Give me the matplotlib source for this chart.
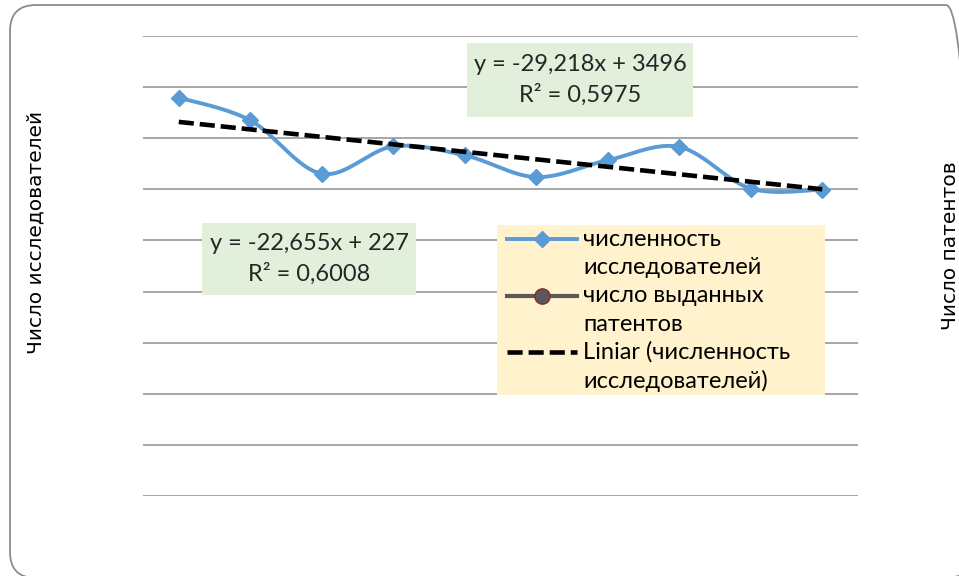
import numpy as np
import matplotlib.pyplot as plt
from matplotlib.patches import FancyBboxPatch, Rectangle
from matplotlib.lines import Line2D

# Данные
years = np.arange(1, 11)
researchers = [3559, 3470, 3261, 3368, 3333, 3248, 3314, 3366, 3203, 3199]
patents = []  # на графике не видно

label_researchers = "численность\nисследователей"
label_patents = "число выданных\nпатентов"
label_trend = "Liniar (численность\nисследователей)"
eq_researchers = "y = -29,218x + 3496\nR² = 0,5975"
eq_patents = "y = -22,655x + 227\nR² = 0,6008"
ylabel_left = "Число исследователей"
ylabel_right = "Число патентов"

W, H = 959, 576


def fx(px):
    return px / W


def fy(py):
    return 1 - py / H


def smooth(x, y, n=30):
    # сглаживание как в Excel (Catmull-Rom / Безье)
    x = np.asarray(x, float)
    y = np.asarray(y, float)
    px = np.concatenate([[x[0]], x, [x[-1]]])
    py = np.concatenate([[y[0]], y, [y[-1]]])
    xs, ys = [], []
    t = np.linspace(0, 1, n)
    for i in range(1, len(px) - 2):
        p0, p1, p2, p3 = (np.array([px[j], py[j]]) for j in (i - 1, i, i + 1, i + 2))
        c1 = p1 + (p2 - p0) / 6
        c2 = p2 - (p3 - p1) / 6
        seg = ((1 - t) ** 3)[:, None] * p1 + (3 * (1 - t) ** 2 * t)[:, None] * c1 \
            + (3 * (1 - t) * t ** 2)[:, None] * c2 + (t ** 3)[:, None] * p2
        xs.extend(seg[:, 0])
        ys.extend(seg[:, 1])
    return np.array(xs), np.array(ys)


fig = plt.figure(figsize=(W / 100, H / 100), dpi=100)

# рамка диаграммы со скруглёнными углами
frame = FancyBboxPatch((fx(10), fy(578)), fx(972) - fx(10), fy(5) - fy(578),
                       boxstyle="round,pad=0,rounding_size=%f" % (26 / W),
                       transform=fig.transFigure, facecolor="none",
                       edgecolor="#8c8c8c", linewidth=1.3, mutation_aspect=W / H)
fig.patches.append(frame)

ax = fig.add_axes([fx(143), fy(496), fx(858) - fx(143), fy(36) - fy(496)])
ax.set_facecolor("none")
ax.set_xlim(0.5, 10.5)
ax.set_ylim(2000, 3800)
ax.set_yticks(np.arange(2000, 3801, 200))
ax.yaxis.grid(True, color="#a6a6a6", linewidth=1.4)
ax.set_axisbelow(True)
ax.tick_params(left=False, bottom=False, labelleft=False, labelbottom=False)
for s in ax.spines.values():
    s.set_visible(False)

sx, sy = smooth(years, researchers)
ax.plot(sx, sy, color="#5b9bd5", linewidth=2.8, solid_capstyle="round", zorder=2)
ax.plot(years, researchers, linestyle="none", marker="D", markersize=8.5,
        color="#5b9bd5", zorder=2)

k, b = np.polyfit(years, researchers, 1)
ax.plot(years, k * years + b, color="black", linewidth=3.3,
        dashes=(3.3, 1.3), zorder=3)

# подписи линий тренда
eq_font = dict(family="Lato", fontsize=17, color="#262626")
for (x0, y0, x1, y1), txt in [((467, 43, 693, 117), eq_researchers),
                              ((202, 223, 416, 295), eq_patents)]:
    fig.patches.append(Rectangle((fx(x0), fy(y1)), fx(x1) - fx(x0), fy(y0) - fy(y1),
                                 transform=fig.transFigure, facecolor="#e2efda",
                                 edgecolor="none", zorder=3))
    fig.text(fx((x0 + x1) / 2), fy((y0 + y1) / 2), txt, ha="center", va="center",
             linespacing=1.5, zorder=4, **eq_font)

# легенда
fig.patches.append(Rectangle((fx(497), fy(395)), fx(825) - fx(497), fy(225) - fy(395),
                             transform=fig.transFigure, facecolor="#fff2cc",
                             edgecolor="none", zorder=3))
handles = [
    dict(color="#5b9bd5", lw=2.8, marker="D", ms=8.5, mfc="#5b9bd5", mec="#5b9bd5", ls="-"),
    dict(color="#595959", lw=3.0, marker="o", ms=11, mfc="#595959", mec="#8b2a2a", ls="-"),
    dict(color="black", lw=3.3, marker=None, ls=(0, (3.3, 1.3))),
]
legend_labels = [label_researchers, label_patents, label_trend]
for i, (h, lab) in enumerate(zip(handles, legend_labels)):
    yy = 239 + i * 56.5
    ln = Line2D([fx(507), fx(577)], [fy(yy), fy(yy)], transform=fig.transFigure,
                color=h["color"], linewidth=h["lw"], linestyle=h["ls"], zorder=4)
    fig.lines.append(ln)
    if h["marker"]:
        fig.lines.append(Line2D([fx(542)], [fy(yy)], transform=fig.transFigure,
                                marker=h["marker"], markersize=h["ms"],
                                markerfacecolor=h["mfc"], markeredgecolor=h["mec"],
                                linestyle="none", zorder=5))
    for j, part in enumerate(lab.split("\n")):
        fig.text(fx(583), fy(yy + j * 29), part, ha="left", va="center",
                 zorder=5, family="Lato", fontsize=17, color="black")

# подписи осей
fig.text(fx(36), fy(232), ylabel_left, rotation=90, ha="center", va="center",
         fontsize=14.5, family="DejaVu Sans")
fig.text(fx(951), fy(246), ylabel_right, rotation=90, ha="center", va="center",
         fontsize=14.5, family="DejaVu Sans")

fig.savefig("out.png", dpi=100)
